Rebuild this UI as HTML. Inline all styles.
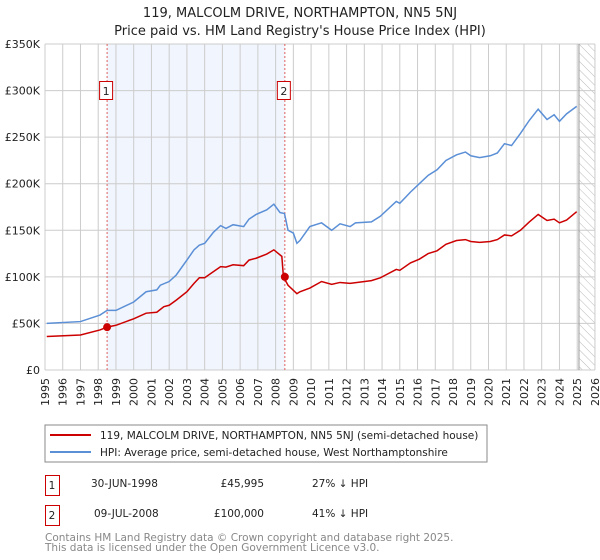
<!DOCTYPE html>
<html><head><meta charset="utf-8"><style>
body{margin:0;background:#fff;font-family:"Liberation Sans","DejaVu Sans",sans-serif;}
#wrap{position:relative;width:600px;height:560px;overflow:hidden}
svg text{font-family:"DejaVu Sans","Liberation Sans",sans-serif;}
</style></head><body><div id="wrap">
<svg id="chart" width="600" height="560">
<defs><pattern id="hatch" width="6" height="6" patternUnits="userSpaceOnUse" patternTransform="rotate(-45)"><line x1="0" y1="0" x2="0" y2="6" stroke="#bbb" stroke-width="1"/></pattern></defs>
<text x="300" y="17" text-anchor="middle" font-size="13" fill="#222">119, MALCOLM DRIVE, NORTHAMPTON, NN5 5NJ</text>
<text x="300" y="35" text-anchor="middle" font-size="13" fill="#222">Price paid vs. HM Land Registry's House Price Index (HPI)</text>
<g id="grid"></g><g id="marks"></g><g id="axes"></g>
<rect x="45" y="425" width="442" height="37" fill="#fff" stroke="#888"/>
<line x1="50" y1="435" x2="91" y2="435" stroke="#cc0000" stroke-width="2"/>
<text x="100" y="439" font-size="10.5" fill="#222">119, MALCOLM DRIVE, NORTHAMPTON, NN5 5NJ (semi-detached house)</text>
<line x1="50" y1="452" x2="91" y2="452" stroke="#5b8fd6" stroke-width="2"/>
<text x="100" y="456" font-size="10.5" fill="#222">HPI: Average price, semi-detached house, West Northamptonshire</text>
<g font-size="10.5" fill="#222">
<rect x="45.5" y="475.5" width="14" height="20" fill="none" stroke="#cc0000"/>
<text x="52" y="489" text-anchor="middle">1</text>
<text x="91" y="487">30-JUN-1998</text>
<text x="264" y="487" text-anchor="end">£45,995</text>
<text x="312" y="487">27% ↓ HPI</text>
<rect x="45.5" y="505.5" width="14" height="20" fill="none" stroke="#cc0000"/>
<text x="52" y="519" text-anchor="middle">2</text>
<text x="94" y="517">09-JUL-2008</text>
<text x="264" y="517" text-anchor="end">£100,000</text>
<text x="312" y="517">41% ↓ HPI</text>
</g>
<text x="45" y="541" font-size="10.5" fill="#888">Contains HM Land Registry data © Crown copyright and database right 2025.</text>
<text x="45" y="551" font-size="10.5" fill="#888">This data is licensed under the Open Government Licence v3.0.</text>
</svg></div>
<script>
const years=[1995,1996,1997,1998,1999,2000,2001,2002,2003,2004,2005,2006,2007,2008,2009,2010,2011,2012,2013,2014,2015,2016,2017,2018,2019,2020,2021,2022,2023,2024,2025,2026];
const yTicks=[0,50,100,150,200,250,300,350];
const yLabels=["£0","£50K","£100K","£150K","£200K","£250K","£300K","£350K"];
const hpiT=[1995.1,1997.0,1998.1,1998.5,1999.0,2000.0,2000.7,2001.3,2001.5,2002.0,2002.4,2003.0,2003.4,2003.7,2004.0,2004.5,2004.9,2005.2,2005.6,2006.2,2006.5,2006.9,2007.5,2007.9,2008.25,2008.5,2008.7,2009.0,2009.2,2009.37,2009.93,2010.59,2011.16,2011.63,2012.2,2012.5,2013.4,2013.9,2014.8,2015.0,2015.6,2016.1,2016.6,2017.1,2017.6,2018.2,2018.7,2019.0,2019.5,2020.1,2020.5,2020.9,2021.3,2021.8,2022.3,2022.8,2023.3,2023.7,2024.0,2024.4,2024.97];
const hpiV=[50,52,59,64,64,73,84,86,91,95,102,118,129,134,136,148,155,152,156,154,162,167,172,178,169,168,150,147,136,139,154,158,150,157,154,158,159,165,181,179,191,200,209,215,225,231,234,230,228,230,233,243,241,254,268,280,269,274,267,275,283];
const ppT=[1995.1,1997.0,1998.1,1998.5,1999.0,2000.0,2000.7,2001.3,2001.7,2002.0,2002.4,2003.0,2003.4,2003.7,2004.0,2004.9,2005.2,2005.6,2006.2,2006.5,2006.9,2007.5,2007.9,2008.35,2008.44,2008.7,2009.2,2009.37,2009.93,2010.59,2011.16,2011.63,2012.2,2013.4,2013.9,2014.8,2015.0,2015.6,2016.1,2016.6,2017.1,2017.6,2018.2,2018.7,2019.0,2019.5,2020.1,2020.5,2020.9,2021.3,2021.8,2022.3,2022.8,2023.3,2023.7,2024.0,2024.4,2024.97];
const ppV=[36,37.6,43,46,48,55,61,62,68,69.5,75,84,93,99,99,111,110.5,113,112,118,120,124.5,129,122,100,91,82,84,88,95,92,94,93,96,99,108,107,115,119,125,128,135,139,140,138,137,138,140,145,144,150,159,167,160.5,162,158,161,170];
const saleT=[1998.5,2008.52];
const saleV=[46,100];
const saleIds=["1","2"];
const X=t=>45+(t-1995)*17.74;
const Y=v=>370-v*0.9314;
const NS="http://www.w3.org/2000/svg";
function mk(parent,tag,attrs){const e=document.createElementNS(NS,tag);for(const k in attrs)e.setAttribute(k,attrs[k]);document.getElementById(parent).appendChild(e);return e;}
let r=mk('grid','rect',{x:X(saleT[0]),y:Y(350),width:X(saleT[1])-X(saleT[0]),height:Y(0)-Y(350),fill:'#eef3fc',opacity:0.8});


r=mk('grid','rect',{x:X(2025.1),y:Y(350),width:X(2026)-X(2025.1),height:Y(0)-Y(350),fill:'url(#hatch)'});


years.forEach(y=>{const l=mk('grid','line',{x1:X(y),x2:X(y),y1:Y(350),y2:Y(0),stroke:'#cccccc','stroke-width':1});


const t=mk('axes','text',{x:0,y:0,transform:`translate(${X(y)+4},${Y(0)+8}) rotate(-90)`,'text-anchor':'end','font-size':11,fill:'#222'});t.textContent=y;

});
yTicks.forEach((v,i)=>{const l=mk('grid','line',{x1:X(1995),x2:X(2026),y1:Y(v),y2:Y(v),stroke:'#cccccc','stroke-width':1});


const t=mk('axes','text',{x:40,y:Y(v)+4,'text-anchor':'end','font-size':11,fill:'#222'});t.textContent=yLabels[i];

});
let n=mk('grid','line',{x1:X(2025.1),x2:X(2025.1),y1:Y(350),y2:Y(0),stroke:'#999','stroke-width':1});


saleT.forEach((t,i)=>{const l=mk('marks','line',{x1:X(t),x2:X(t),y1:Y(350),y2:Y(0),stroke:'#e06060','stroke-width':1,'stroke-dasharray':'2,2'});

});
let p=mk('marks','polyline',{points:hpiT.map((t,i)=>X(t)+','+Y(hpiV[i])).join(' '),fill:'none',stroke:'#5b8fd6','stroke-width':1.5});


p=mk('marks','polyline',{points:ppT.map((t,i)=>X(t)+','+Y(ppV[i])).join(' '),fill:'none',stroke:'#cc0000','stroke-width':1.5});


saleT.forEach((t,i)=>{const c=mk('marks','circle',{cx:X(t),cy:Y(saleV[i]),r:4,fill:'#cc0000'});


const b=mk('marks','rect',{x:X(t)-7.5,y:81.5,width:13,height:18,fill:'#fff',stroke:'#cc0000'});


const tx=mk('marks','text',{x:X(t)-1,y:95,'text-anchor':'middle','font-size':11,fill:'#222'});tx.textContent=saleIds[i];

});
</script></body></html>
